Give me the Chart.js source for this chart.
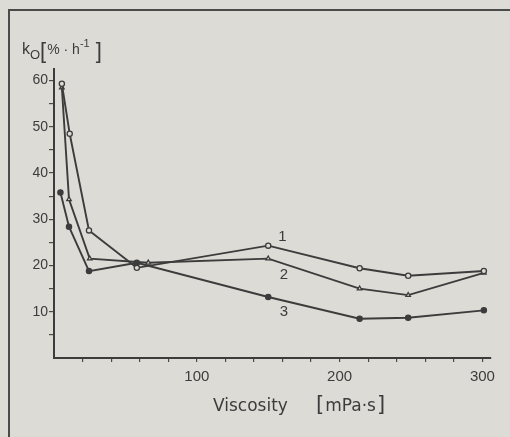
<!DOCTYPE html>
<html>
<head>
<meta charset="utf-8">
<script src="https://cdn.jsdelivr.net/npm/chart.js@4/dist/chart.umd.min.js"></script>
<style>
  html, body { margin: 0; padding: 0; background: #dcdbd6; }
  #wrap { width: 510px; height: 437px; }
</style>
</head>
<body>
<div id="wrap"><canvas id="c" width="510" height="437"></canvas></div>
<script>
// Viscosity [mPa·s] and rate constant k_O [%·h^-1] for three runs
const viscosity1 = [5.5, 11, 24.5, 58, 150, 214, 248, 301];
const rate1      = [59.3, 48.5, 27.6, 19.5, 24.3, 19.4, 17.8, 18.8];
const viscosity2 = [5.5, 10.5, 25, 66, 150, 214, 248, 301];
const rate2      = [58.5, 34.3, 21.5, 20.6, 21.5, 15.0, 13.6, 18.4];
const viscosity3 = [4.5, 10.5, 24.5, 58, 150, 214, 248, 301];
const rate3      = [35.8, 28.4, 18.8, 20.6, 13.2, 8.5, 8.7, 10.3];

// curve number labels, placed in data units
const curveLabels = ['1', '2', '3'];
const curveLabelX = [160, 161, 161];
const curveLabelY = [26.3, 18.0, 10.0];

const xTicksLabelled = [100, 200, 300];
const yTicksLabelled = [10, 20, 30, 40, 50, 60];

const INK = '#3c3c3c';
const BG = '#dcdbd6';

function pts(xs, ys) { return xs.map((x, i) => ({ x: x, y: ys[i] })); }

const framePlugin = {
  id: 'frame',
  beforeDraw(chart) {
    const ctx = chart.ctx;
    ctx.save();
    ctx.fillStyle = BG;
    ctx.fillRect(0, 0, chart.width, chart.height);
    ctx.strokeStyle = '#4a4a4a';
    ctx.lineWidth = 2;
    ctx.beginPath();
    ctx.moveTo(9, chart.height);
    ctx.lineTo(9, 10);
    ctx.lineTo(chart.width, 10);
    ctx.stroke();
    ctx.restore();
  },
  afterDraw(chart) {
    const ctx = chart.ctx;
    const xs = chart.scales.x, ys = chart.scales.y;
    ctx.save();
    ctx.fillStyle = INK;
    ctx.textBaseline = 'middle';
    ctx.textAlign = 'center';
    ctx.font = '15px "Liberation Sans"';
    curveLabels.forEach((t, i) => {
      ctx.fillText(t, xs.getPixelForValue(curveLabelX[i]), ys.getPixelForValue(curveLabelY[i]));
    });

    // x axis title
    ctx.font = '17px "DejaVu Sans"';
    ctx.textAlign = 'left';
    ctx.fillText('Viscosity', 213, 407);
    ctx.font = '21px "DejaVu Sans"';
    let x = 316;
    ctx.fillText('[', x, 406); x += ctx.measureText('[').width + 1;
    ctx.font = '17px "DejaVu Sans"';
    ctx.fillText('mPa·s', x, 407); x += ctx.measureText('mPa·s').width + 1;
    ctx.font = '21px "DejaVu Sans"';
    ctx.fillText(']', x, 406);

    // y axis title: k_O [%·h^-1]
    ctx.textBaseline = 'alphabetic';
    x = 22;
    ctx.font = '16px "Liberation Sans"';
    ctx.fillText('k', x, 54); x += ctx.measureText('k').width;
    ctx.font = '13px "Liberation Sans"';
    ctx.fillText('O', x, 59); x += ctx.measureText('O').width;
    ctx.font = '22px "Liberation Sans"';
    ctx.fillText('[', x, 58); x += ctx.measureText('[').width + 1;
    ctx.font = '14px "Liberation Sans"';
    ctx.fillText('% · h', x, 54); x += ctx.measureText('% · h').width;
    ctx.font = '11px "Liberation Sans"';
    ctx.fillText('-1', x, 47); x += ctx.measureText('-1').width + 6;
    ctx.font = '22px "Liberation Sans"';
    ctx.fillText(']', x, 58);
    ctx.restore();
  }
};

const lineStyle = {
  borderColor: INK,
  borderWidth: 1.9,
  tension: 0,
  pointRadius: 2.6,
  pointBorderWidth: 1.3,
  pointBorderColor: INK
};

const tickColor = c => (c.tick && c.tick.value === 0) ? 'rgba(0,0,0,0)' : '#4a4a4a';

new Chart(document.getElementById('c'), {
  type: 'line',
  data: {
    datasets: [
      Object.assign({ label: '1', data: pts(viscosity1, rate1), pointStyle: 'circle', pointBackgroundColor: BG }, lineStyle),
      Object.assign({ label: '2', data: pts(viscosity2, rate2), pointStyle: 'triangle', pointBackgroundColor: BG }, lineStyle),
      Object.assign({ label: '3', data: pts(viscosity3, rate3), pointStyle: 'circle', pointBackgroundColor: INK, pointRadius: 3 }, lineStyle)
    ]
  },
  options: {
    responsive: false,
    animation: false,
    devicePixelRatio: 1,
    layout: { padding: { left: 0, top: 69, right: 19, bottom: 0 } },
    plugins: { legend: { display: false }, tooltip: { enabled: false } },
    scales: {
      x: {
        type: 'linear',
        min: 0,
        max: 306,
        afterFit(s) { s.height = 79; },
        border: { display: true, color: INK, width: 2 },
        grid: { drawOnChartArea: false, drawTicks: true, tickLength: 4, color: tickColor, lineWidth: 1.2 },
        ticks: {
          stepSize: 20,
          includeBounds: false,
          padding: 6,
          maxRotation: 0,
          autoSkip: false,
          color: INK,
          font: { family: 'Liberation Sans', size: 15 },
          callback: v => xTicksLabelled.includes(v) ? String(v) : ''
        }
      },
      y: {
        type: 'linear',
        min: 0,
        max: 62.5,
        afterFit(s) { s.width = 54; },
        border: { display: true, color: INK, width: 2 },
        grid: { drawOnChartArea: false, drawTicks: true, tickLength: 5, color: tickColor, lineWidth: 1.2 },
        ticks: {
          stepSize: 5,
          includeBounds: false,
          padding: 1,
          autoSkip: false,
          color: INK,
          font: { family: 'Liberation Sans', size: 14 },
          callback: v => yTicksLabelled.includes(v) ? String(v) : ''
        }
      }
    }
  },
  plugins: [framePlugin]
});
</script>
</body>
</html>
